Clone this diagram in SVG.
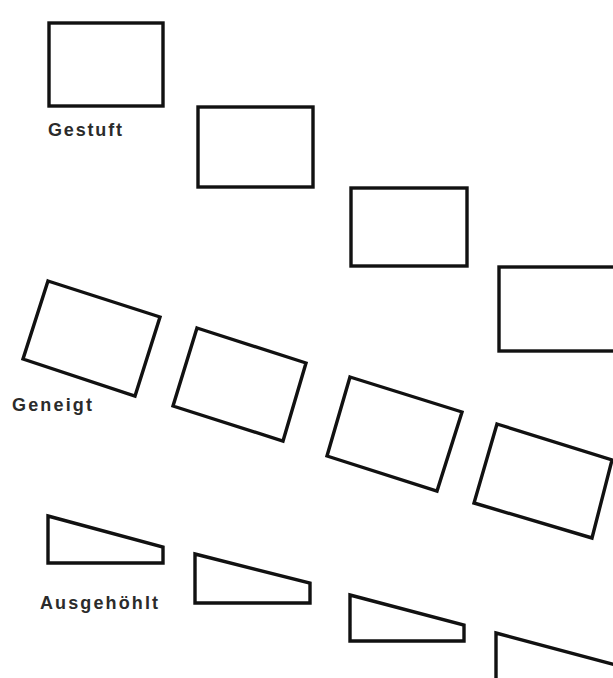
<svg xmlns="http://www.w3.org/2000/svg" width="613" height="678" viewBox="0 0 613 678">
<style>
.s{fill:none;stroke:#111;stroke-width:3.4;stroke-linejoin:miter}
.t{font-family:"Liberation Sans",Arial,sans-serif;font-weight:bold;font-size:18px;fill:#2b2b2b}
</style>
<rect width="613" height="678" fill="#fff"/>
<g id="gestuft">
<g id="g1"><rect class="s" x="49" y="23" width="114" height="83"/></g>
<g id="g2"><rect class="s" x="198" y="107" width="115" height="80"/></g>
<g id="g3"><rect class="s" x="351" y="188" width="116" height="78"/></g>
<g id="g4"><rect class="s" x="499" y="267" width="130" height="84"/></g>
<text id="l1" class="t" x="48" y="136" textLength="74" lengthAdjust="spacing">Gestuft</text>
</g>
<g id="geneigt">
<g id="n1"><polygon class="s" points="48,281 160,317 135,396 23,359"/></g>
<g id="n2"><polygon class="s" points="197,328 306,363 283,441 173,406"/></g>
<g id="n3"><polygon class="s" points="350,377 462,412 437,491 327,456"/></g>
<g id="n4"><polygon class="s" points="497,424 612,460 592,538 474,503"/></g>
<text id="l2" class="t" x="12" y="411" textLength="80" lengthAdjust="spacing">Geneigt</text>
</g>
<g id="ausgehoehlt">
<g id="a1"><polygon class="s" points="48,516 163,547 163,563 48,563"/></g>
<g id="a2"><polygon class="s" points="195,554 310,583 310,603 195,603"/></g>
<g id="a3"><polygon class="s" points="350,595 464,625 464,641 350,641"/></g>
<g id="a4"><polygon class="s" points="496,633 620,666 620,690 496,690"/></g>
<text id="l3" class="t" x="40" y="609" textLength="118" lengthAdjust="spacing">Ausgehöhlt</text>
</g>
</svg>
